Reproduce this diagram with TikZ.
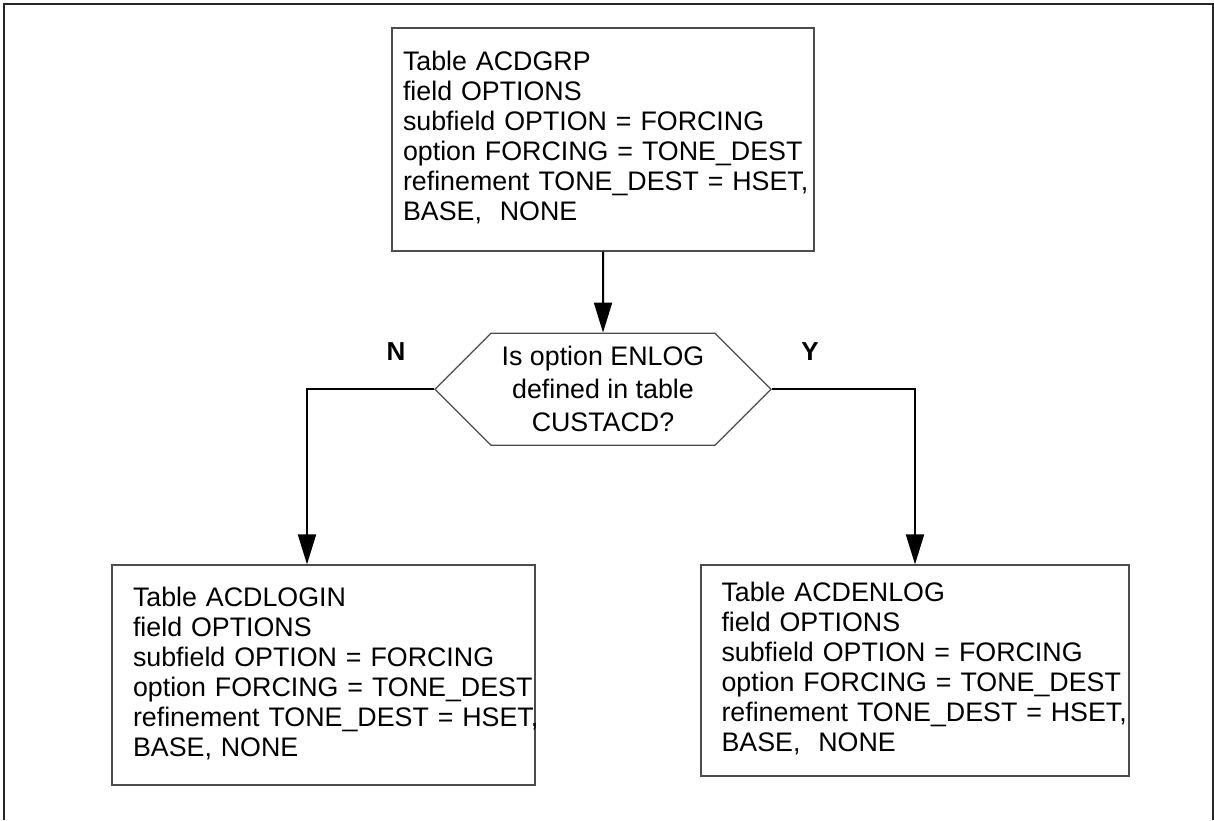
\documentclass[tikz,border=0pt]{standalone}
\usepackage{fontspec}
\setmainfont{Liberation Sans}
\usetikzlibrary{positioning,arrows.meta,shapes.symbols}

\newcommand{\boxlines}[1]{\begin{tabular}{@{}l@{}}#1\end{tabular}}

\begin{document}
\begin{tikzpicture}[x=1pt,y=-1pt,
    tablebox/.style={draw=black!70,line width=1.2pt,align=left,inner ysep=0pt,
      font=\fontsize{26.8}{30}\selectfont},
    decision/.style={signal,signal to=west and east,draw=black!70,line width=1.2pt,
      align=center,inner sep=0pt,font=\fontsize{26.8}{33}\selectfont},
    answer/.style={font=\fontsize{26}{30}\selectfont\bfseries}]
  \useasboundingbox (0,0) rectangle (1214,820);
  \draw[line width=2pt,black!85] (4,820) -- (4,4) -- (1213,4) -- (1213,820);

  \node[tablebox,text width=400pt,inner xsep=11pt,minimum height=223pt] (acdgrp) at (603,139.5)
    {\boxlines{Table ACDGRP\\field OPTIONS\\subfield OPTION = FORCING\\option FORCING = TONE\_DEST\\refinement TONE\_DEST = HSET,\\BASE,\ \ NONE}};
  \node[decision,minimum width=336pt,minimum height=112pt,below=81pt of acdgrp] (enlog)
    {Is option ENLOG\\defined in table\\CUSTACD?};

  \node[tablebox,text width=381pt,inner xsep=21pt,minimum height=220pt] (acdlogin) at (323.5,675)
    {\boxlines{Table ACDLOGIN\\field OPTIONS\\subfield OPTION = FORCING\\option FORCING = TONE\_DEST\\refinement TONE\_DEST = HSET,\\BASE, NONE}};
  \node[tablebox,text width=387pt,inner xsep=20.5pt,minimum height=211pt] (acdenlog) at (915,670.5)
    {\boxlines{Table ACDENLOG\\field OPTIONS\\subfield OPTION = FORCING\\option FORCING = TONE\_DEST\\refinement TONE\_DEST = HSET,\\BASE,\ \ NONE}};

  \node[answer] (no) at (396,352) {N};
  \node[answer] (yes) at (810,352) {Y};

  \begin{scope}[->,>={Triangle[length=30pt,width=18pt]},line width=2pt]
    \draw (acdgrp) -- (enlog);
    \draw (enlog.west) -| ([xshift=-16.5pt]acdlogin.north);
    \draw (enlog.east) -| (acdenlog.north);
  \end{scope}
\end{tikzpicture}
\end{document}
